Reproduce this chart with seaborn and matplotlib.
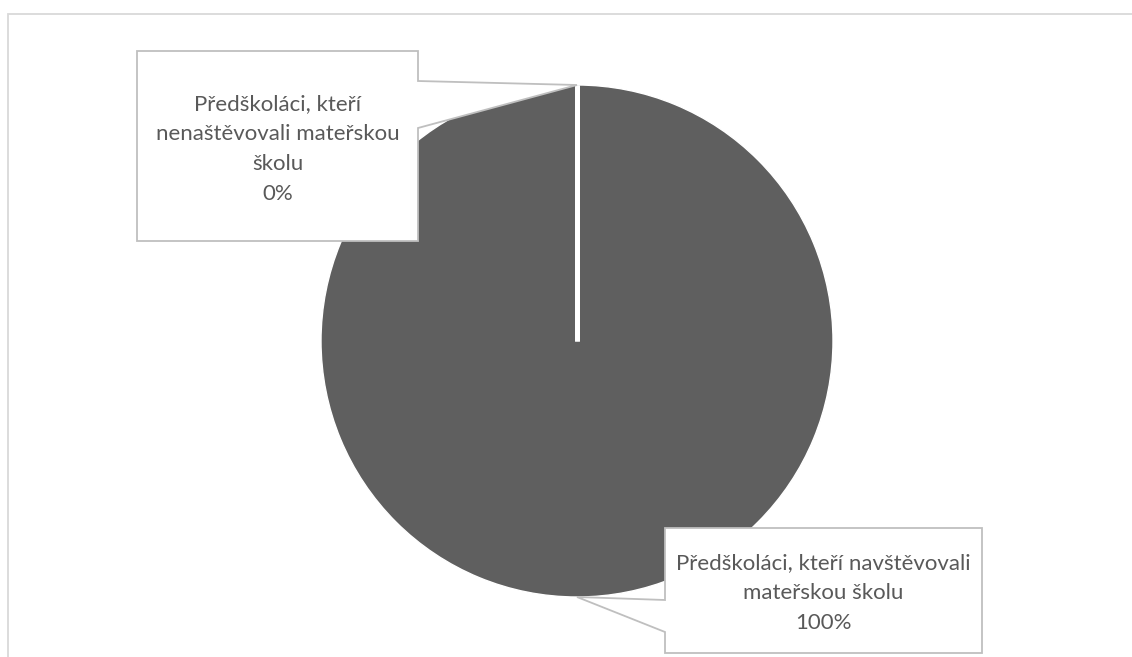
import numpy as np
import matplotlib
matplotlib.use("Agg")
import matplotlib.pyplot as plt
from matplotlib.patches import Polygon, Rectangle
import seaborn as sns

# Data
categories = [
    "Předškoláci, kteří\nnenaštěvovali mateřskou\nškolu",
    "Předškoláci, kteří navštěvovali\nmateřskou školu",
]
shares = [0, 100]          # percent
share_labels = ["0%", "100%"]

sns.set_theme(style="white")
plt.rcParams["font.family"] = ["Lato", "DejaVu Sans"]

W, H = 1132, 657
fig = plt.figure(figsize=(W / 100, H / 100), dpi=100)
ax = fig.add_axes([0, 0, 1, 1])


def py(y):
    """Convert a top-down pixel row to axis y."""
    return H - y


cx, cy, r = 577, py(341), 256
pie_color = "#5f5f5f"
wedges, _ = ax.pie(shares, colors=[pie_color, pie_color], startangle=90,
                   counterclock=False, radius=r, center=(cx, cy),
                   wedgeprops=dict(edgecolor="white", linewidth=1.0),
                   frame=True)
ax.set_xlim(0, W)
ax.set_ylim(0, H)
ax.set_aspect("equal")
ax.axis("off")

# Chart-area frame
ax.add_patch(Rectangle((8, py(700)), 1200, 700 - 14, fill=False,
                       edgecolor="#d9d9d9", linewidth=1.3, zorder=0))

# Slice boundaries (white separators from the centre to the rim)
for w in wedges:
    for ang in {w.theta1 % 360, w.theta2 % 360}:
        a = np.deg2rad(ang)
        ax.plot([cx, cx + r * np.cos(a)], [cy, cy + r * np.sin(a)],
                color="white", linewidth=3.5, solid_capstyle="butt", zorder=3)


def wedge_tip(w):
    mid = np.deg2rad((w.theta1 + w.theta2) / 2)
    return cx + r * np.cos(mid), cy + r * np.sin(mid)


edge = "#bfbfbf"
txt_color = "#595959"

# Callout for the 0 % slice (box at upper left, pointer to the pie top)
tx, ty = wedge_tip(wedges[0])
box1 = [(137, py(51)), (418, py(51)), (418, py(81)), (tx, ty),
        (418, py(128)), (418, py(241)), (137, py(241))]
ax.add_patch(Polygon(box1, closed=True, facecolor="white", edgecolor=edge,
                     linewidth=1.3, zorder=5))
ax.text((137 + 418) / 2, py(149), f"{categories[0]}\n{share_labels[0]}",
        ha="center", va="center", fontsize=16, color=txt_color,
        linespacing=1.62, zorder=6)

# Callout for the 100 % slice (box at lower right, pointer to the pie bottom)
tx, ty = wedge_tip(wedges[1])
box2 = [(665, py(528)), (982, py(528)), (982, py(653)), (665, py(653)),
        (665, py(632)), (tx, ty), (665, py(600))]
ax.add_patch(Polygon(box2, closed=True, facecolor="white", edgecolor=edge,
                     linewidth=1.3, zorder=5))
ax.text((665 + 982) / 2, py(593), f"{categories[1]}\n{share_labels[1]}",
        ha="center", va="center", fontsize=16, color=txt_color,
        linespacing=1.62, zorder=6)

fig.savefig("out.png", dpi=100, facecolor="white")
